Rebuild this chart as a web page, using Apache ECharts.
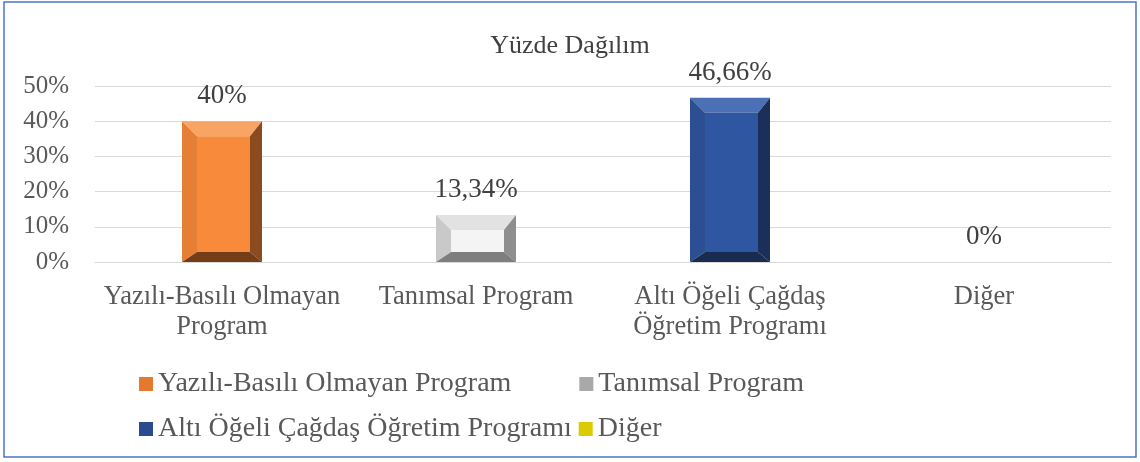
<!DOCTYPE html>
<html>
<head>
<meta charset="utf-8">
<script src="https://cdn.jsdelivr.net/npm/echarts@6/dist/echarts.min.js"></script>
<style>
  html, body { margin: 0; padding: 0; background: #fff; }
  #chart { width: 1140px; height: 462px; }
</style>
</head>
<body>
<div id="chart"></div>
<script>
  // data
  const categories = ['Yazılı-Basılı Olmayan Program', 'Tanımsal Program', 'Altı Öğeli Çağdaş Öğretim Programı', 'Diğer'];
  const axisLabels = ['Yazılı-Basılı Olmayan\nProgram', 'Tanımsal Program', 'Altı Öğeli Çağdaş\nÖğretim Programı', 'Diğer'];
  const values = [40, 13.34, 46.66, 0];
  const yMin = 0, yMax = 50, yStep = 10;

  // bevel colours for each series: face, top, left, right, bottom
  const palette = [
    { legend: '#E4792F', face: '#F78B3B', top: '#F8A464', left: '#E67F36', right: '#8C4B1E', bottom: '#743D17' },
    { legend: '#A9A9A9', face: '#F4F4F4', top: '#E2E2E2', left: '#C9C9C9', right: '#8E8E8E', bottom: '#7E7E7E' },
    { legend: '#2A4C8C', face: '#2F56A0', top: '#4B70B6', left: '#2C4F93', right: '#1B2F5A', bottom: '#1A2B50' },
    { legend: '#DCCB00', face: '#F2E200', top: '#F7EC4A', left: '#E0D000', right: '#8C8200', bottom: '#7A7000' }
  ];

  const font = '"Liberation Serif", "DejaVu Serif", serif';
  const myChart = echarts.init(document.getElementById('chart'));

  function fmt(v) {
    return String(v).replace('.', ',') + '%';
  }

  function renderItem(params, api) {
    const idx = api.value(0);
    const v = api.value(1);
    const base = api.coord([idx, 0]);
    const top = api.coord([idx, v]);
    const w = api.size([1, 0])[0] * 0.315;
    const x0 = base[0] - w / 2, x1 = base[0] + w / 2;
    const y0 = top[1], y1 = base[1];
    const c = palette[params.seriesIndex];
    const children = [];
    if (v > 0) {
      let bl = 15, bt = 15, br = 12, bb = 10;
      const h = y1 - y0;
      if (h < bt + bb + 4) {
        const k = h / (bt + bb + 4);
        bt *= k; bb *= k;
      }
      const poly = (pts, fill) => ({ type: 'polygon', shape: { points: pts }, style: { fill: fill } });
      children.push(
        poly([[x0, y0], [x1, y0], [x1 - br, y0 + bt], [x0 + bl, y0 + bt]], c.top),
        poly([[x0, y0], [x0 + bl, y0 + bt], [x0 + bl, y1 - bb], [x0, y1]], c.left),
        poly([[x1, y0], [x1, y1], [x1 - br, y1 - bb], [x1 - br, y0 + bt]], c.right),
        poly([[x0, y1], [x0 + bl, y1 - bb], [x1 - br, y1 - bb], [x1, y1]], c.bottom),
        {
          type: 'rect',
          shape: { x: x0 + bl, y: y0 + bt, width: x1 - br - x0 - bl, height: y1 - bb - y0 - bt },
          style: { fill: c.face }
        }
      );
    }
    children.push({
      type: 'text',
      style: {
        x: base[0], y: y0 - 25,
        text: fmt(v),
        fill: '#404040',
        font: '27px ' + font,
        align: 'center', verticalAlign: 'middle'
      }
    });
    return { type: 'group', children: children };
  }

  const series = categories.map((name, i) => ({
    name: name,
    type: 'custom',
    renderItem: renderItem,
    itemStyle: { color: palette[i].legend },
    encode: { x: 0, y: 1 },
    data: [[i, values[i]]]
  }));

  const legendText = { color: '#595959', fontSize: 28, fontFamily: font };

  const option = {
    animation: false,
    title: {
      text: 'Yüzde Dağılım',
      left: 'center',
      top: 28,
      textStyle: { color: '#404040', fontSize: 26, fontWeight: 'normal', fontFamily: font }
    },
    legend: [
      {
        data: [categories[0], categories[1]],
        left: 134, top: 365,
        icon: 'rect', itemWidth: 14, itemHeight: 14, itemGap: 68,
        textStyle: legendText
      },
      {
        data: [categories[2], categories[3]],
        left: 134, top: 410,
        icon: 'rect', itemWidth: 14, itemHeight: 14, itemGap: 7,
        textStyle: legendText
      }
    ],
    grid: { left: 95, right: 29, top: 86, bottom: 200 },
    xAxis: {
      type: 'category',
      data: axisLabels,
      axisLine: { lineStyle: { color: '#D9D9D9', width: 1 } },
      axisTick: { show: false },
      axisLabel: { color: '#595959', fontSize: 26.5, fontFamily: font, lineHeight: 30, margin: 20, interval: 0 }
    },
    yAxis: {
      type: 'value',
      min: yMin, max: yMax, interval: yStep,
      axisLine: { show: false },
      axisTick: { show: false },
      splitLine: { lineStyle: { color: '#D9D9D9', width: 1 } },
      axisLabel: { color: '#595959', fontSize: 25, fontFamily: font, margin: 26, formatter: v => v + '%' }
    },
    graphic: [{
      type: 'rect',
      shape: { x: 4, y: 2, width: 1132, height: 455 },
      style: { fill: 'none', stroke: '#4A76C6', lineWidth: 1.5 },
      silent: true
    }],
    series: series
  };

  myChart.setOption(option);
</script>
</body>
</html>
